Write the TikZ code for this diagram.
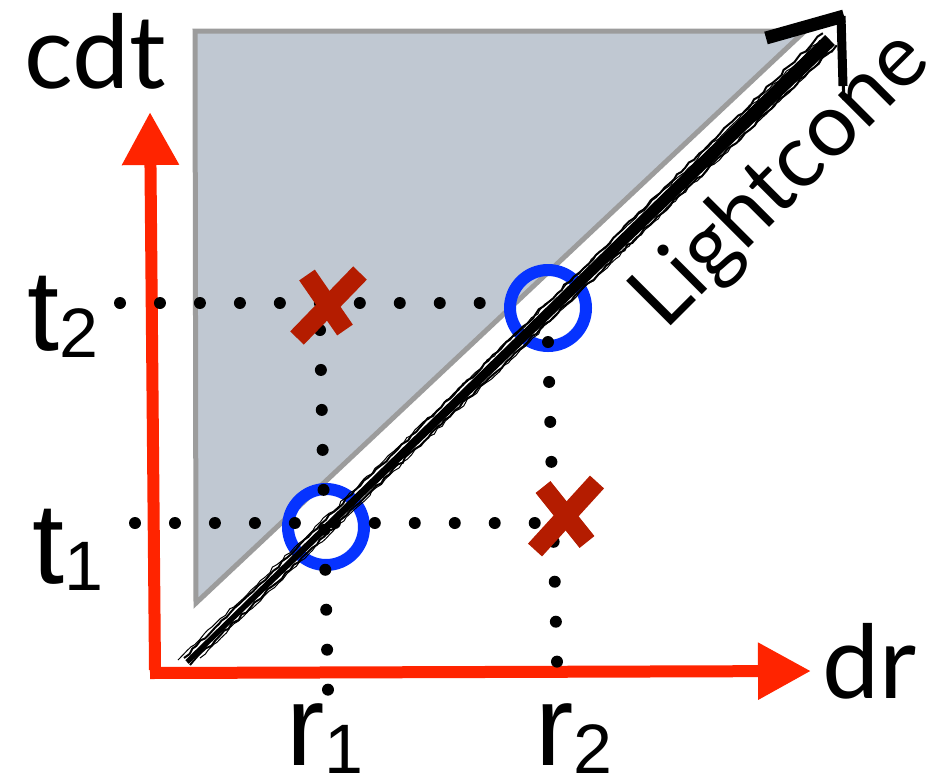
\documentclass[tikz,border=0pt]{standalone}
\usepackage{fontspec}
\setmainfont{Liberation Sans}
\newfontfamily\gillfont{Lato}
\usetikzlibrary{arrows.meta,decorations.pathmorphing}
\definecolor{axisred}{HTML}{FF2400}
\definecolor{ringblue}{HTML}{0633FF}
\definecolor{crossred}{HTML}{B41C00}
\definecolor{conefill}{HTML}{C0C8D2}
\definecolor{coneedge}{HTML}{9C9C9C}
\begin{document}
\begin{tikzpicture}[x=1pt,y=-1pt,
  axisline/.style={draw=axisred, line width=12pt, -{Triangle[length=53pt,width=54pt]}},
  dotline/.style={line width=12pt, line cap=round, dash pattern=on 0pt off 39.97pt},
  ring/.style={circle, draw=ringblue, line width=12pt, minimum size=76pt, inner sep=0pt},
  crossstroke/.style={draw=crossred, line width=19pt, line cap=butt},
  rough/.style={line width=2pt, decorate, decoration={random steps, segment length=6pt, amplitude=1.3pt}},
  biglabel/.style={inner sep=0pt, anchor=base west, font=\fontsize{115}{115}\selectfont},
  gilllabel/.style={inner sep=0pt, anchor=base west, font=\gillfont\fontsize{102}{102}\selectfont}]
\useasboundingbox (0,0) rectangle (947,772);
\fill[white] (0,0) rectangle (947,772);

% light cone region
\filldraw[fill=conefill, draw=coneedge, line width=5pt] (195,31) -- (805,31) -- (196,603) -- cycle;

% axes
\coordinate (ytip) at (150,112);
\coordinate (ystart) at (155,670);
\coordinate (xstart) at (150,673);
\coordinate (xtip) at (811,671);
\draw[axisline] (ystart) -- (ytip);
\draw[axisline] (xstart) -- (xtip);

% events on the light cone
\node[ring] (c1) at (326,527) {};
\node[ring] (c2) at (548,308) {};

% sketchy light-cone arrow
\coordinate (sk0) at (187,662);
\coordinate (sk1) at (830,40);
\fill[black] (185.3,660.2) -- (825.1,35.0) -- (834.9,45.0) -- (188.7,663.8) -- cycle;
\draw[rough] (190,665) -- (837,45);
\draw[rough] (184,658) -- (823,33);
\draw[rough, line width=1pt] (200,658) -- (832,50);
\draw[rough, line width=1pt] (178,660) -- (820,40);
\draw[line width=13pt] (766,38) -- (844,16);
\draw[line width=9pt] (841,16) -- (843,86);
\draw[line width=3pt] (843,80) -- (844,100);

% dotted guides
\coordinate (t2s) at (120,303);
\coordinate (t2e) at (480,303);
\coordinate (t1s) at (135,523);
\coordinate (t1e) at (535,523);
\coordinate (r1s) at (320,330);
\coordinate (r1e) at (328,690);
\coordinate (r2s) at (548,342);
\coordinate (r2e) at (557,662);
\draw[dotline] (t2s) -- (t2e);
\draw[dotline] (t1s) -- (t1e);
\draw[dotline] (r1s) -- (r1e);
\draw[dotline] (r2s) -- (r2e);

% events outside the light cone
\draw[crossstroke] (297,338) -- (360,273);
\draw[crossstroke] (307,275) -- (345,330);
\draw[crossstroke] (535,550) -- (597,482);
\draw[crossstroke] (543,487) -- (587,542);

% labels
\node[gilllabel] (cdt) at (24,88) {cdt};
\node[gilllabel] (dr) at (822,698) {dr};
\node[biglabel] (t2) at (27,350) {t\raisebox{-7pt}{\fontsize{70}{70}\selectfont 2}};
\node[biglabel] (t1) at (32,583) {t\raisebox{-7pt}{\fontsize{70}{70}\selectfont 1}};
\node[biglabel] (r1) at (286,765) {r\raisebox{-8pt}{\fontsize{70}{70}\selectfont 1}};
\node[biglabel] (r2) at (535,765) {r\raisebox{-8pt}{\fontsize{70}{70}\selectfont 2}};
\node[rotate=45, anchor=base, inner sep=0pt, font=\gillfont\fontsize{88}{88}\selectfont] (lc) at (799,198) {Lightcone};
\end{tikzpicture}
\end{document}
